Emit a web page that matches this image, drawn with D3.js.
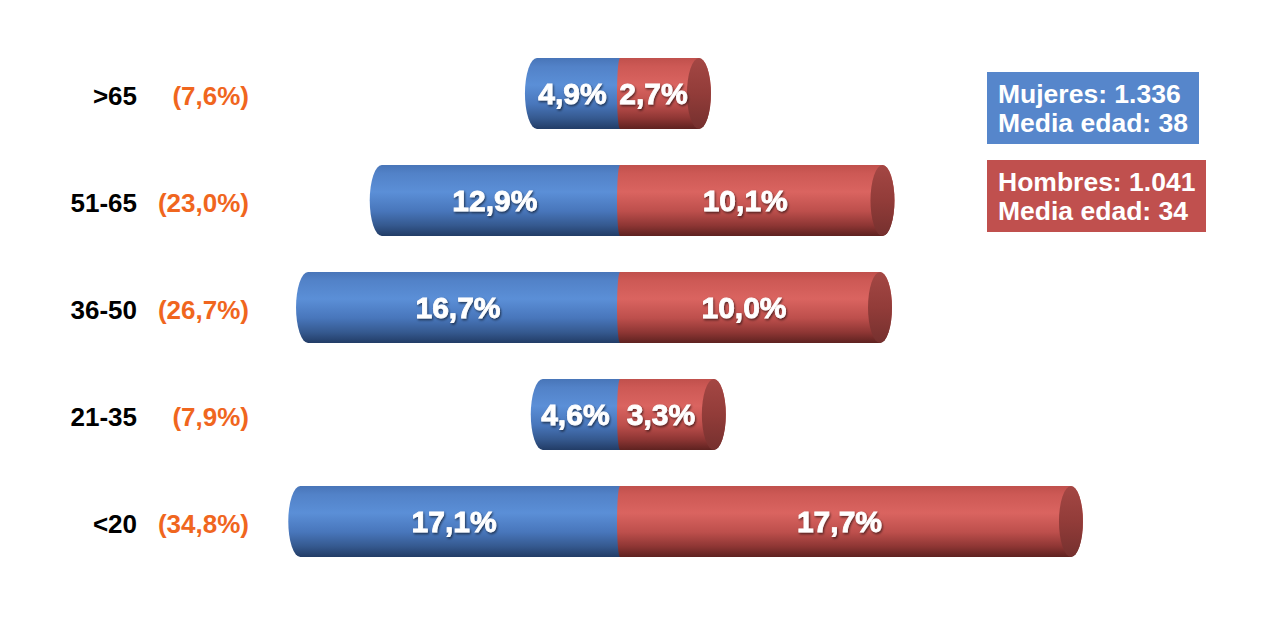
<!DOCTYPE html>
<html><head><meta charset="utf-8">
<script src="https://cdn.jsdelivr.net/npm/d3@7"></script>
<style>html,body{margin:0;padding:0;background:#fff;}svg{display:block;}</style>
</head><body>
<svg id="chart" width="1280" height="636"></svg>
<script>
const categories = [">65", "51-65", "36-50", "21-35", "<20"];
const totals = [7.6, 23.0, 26.7, 7.9, 34.8];
const mujeres = [4.9, 12.9, 16.7, 4.6, 17.1];
const hombres = [2.7, 10.1, 10.0, 3.3, 17.7];
const legendMujeres = ["Mujeres: 1.336", "Media edad: 38"];
const legendHombres = ["Hombres: 1.041", "Media edad: 34"];

const loc = d3.formatLocale({decimal: ",", thousands: ".", grouping: [3], currency: ["", "€"]});
const fmt = loc.format(".1f");

const svg = d3.select("#chart");
const defs = svg.append("defs");

function vgrad(id, stops) {
  const g = defs.append("linearGradient").attr("id", id).attr("x1", 0).attr("y1", 0).attr("x2", 0).attr("y2", 1);
  stops.forEach(s => g.append("stop").attr("offset", s[0]).attr("stop-color", s[1]));
}
vgrad("gBlue", [[0, "#4875b8"], [0.12, "#5282c8"], [0.38, "#5b8fd7"], [0.65, "#4876bb"], [0.85, "#35598f"], [1, "#223c66"]]);
vgrad("gRed", [[0, "#c0504c"], [0.12, "#cd5955"], [0.38, "#da6460"], [0.65, "#bd4f4c"], [0.85, "#8e3634"], [1, "#5e2220"]]);
vgrad("gCap", [[0, "#a44744"], [0.5, "#923c39"], [1, "#75302e"]]);

const f = defs.append("filter").attr("id", "sh").attr("x", "-20%").attr("y", "-20%").attr("width", "140%").attr("height", "140%");
f.append("feDropShadow").attr("dx", 1).attr("dy", 1.5).attr("stdDeviation", 1).attr("flood-color", "#000").attr("flood-opacity", 0.6);

const y = d3.scaleBand().domain(categories).range([40, 575]).paddingInner(0.336).paddingOuter(0.168);
const xL = d3.scaleLinear().domain([0, 20]).range([620, 232]);
const xR = d3.scaleLinear().domain([0, 20]).range([632, 1128]);
const x0 = xL(0);
const rx = 12;
const FONT = "Liberation Sans, Arial, sans-serif";

categories.forEach((c, i) => {
  const top = y(c), bh = y.bandwidth(), bot = top + bh, ry = bh / 2, cy = top + ry;
  // blue (mujeres)
  const lx = xL(mujeres[i]);
  svg.append("path")
    .attr("d", `M${lx + rx},${top} L${x0},${top} L${x0},${bot} L${lx + rx},${bot} A${rx},${ry} 0 0 1 ${lx + rx},${top} Z`)
    .attr("fill", "url(#gBlue)");
  // red (hombres)
  const rxEnd = xR(hombres[i]);
  svg.append("path")
    .attr("d", `M${x0},${top} L${rxEnd},${top} A${rx},${ry} 0 0 1 ${rxEnd},${bot} L${x0},${bot} A3,${ry} 0 0 1 ${x0},${top} Z`)
    .attr("fill", "url(#gRed)");
  svg.append("ellipse").attr("cx", rxEnd).attr("cy", cy).attr("rx", rx).attr("ry", ry).attr("fill", "url(#gCap)");

  // value labels
  [[(lx + x0) / 2, mujeres[i]], [(x0 + rxEnd - rx) / 2, hombres[i]]].forEach(([tx, v]) => {
    svg.append("text").attr("x", tx).attr("y", cy).attr("dy", "0.35em")
      .attr("text-anchor", "middle").attr("fill", "#fff").attr("stroke", "#fff").attr("stroke-width", 0.8)
      .attr("font-family", FONT).attr("font-weight", "bold").attr("font-size", 30).attr("filter", "url(#sh)")
      .text(fmt(v) + "%");
  });

  // category labels
  svg.append("text").attr("x", 137).attr("y", cy + 2).attr("dy", "0.35em").attr("text-anchor", "end")
    .attr("font-family", FONT).attr("font-weight", "bold").attr("font-size", 26)
    .attr("fill", "#000").text(c);
  svg.append("text").attr("x", 249).attr("y", cy + 2).attr("dy", "0.35em").attr("text-anchor", "end")
    .attr("font-family", FONT).attr("font-weight", "bold").attr("font-size", 26)
    .attr("fill", "#f0661e").text("(" + fmt(totals[i]) + "%)");
});

// legend boxes
function legendBox(x, yy, w, h, color, lines) {
  svg.append("rect").attr("x", x).attr("y", yy).attr("width", w).attr("height", h).attr("fill", color);
  lines.forEach((t, j) => {
    svg.append("text").attr("x", x + 11).attr("y", yy + 31 + j * 29)
      .attr("font-family", FONT).attr("font-weight", "bold").attr("font-size", 26.5)
      .attr("fill", "#fff").text(t);
  });
}
legendBox(987, 72, 212, 72, "#5686cb", legendMujeres);
legendBox(987, 160, 219, 72, "#c0504e", legendHombres);
</script>
</body></html>
